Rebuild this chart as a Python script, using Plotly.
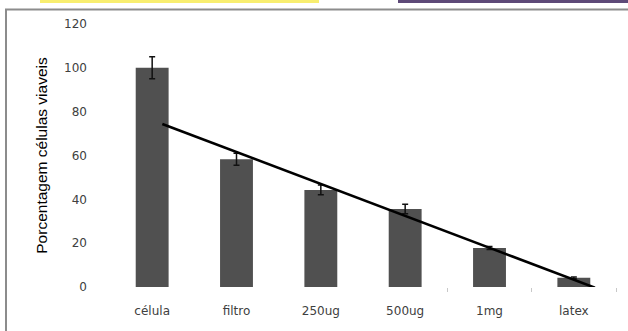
import plotly.graph_objects as go

categories = ["célula", "filtro", "250ug", "500ug", "1mg", "latex"]
values = [100, 58.3, 44.3, 35.6, 17.8, 4.2]
errors = [5.0, 2.7, 2.2, 2.2, 0.7, 0.4]
trend_x = [0.12, 5.25]
trend_y = [74.4, -0.3]
y_ticks = [0, 20, 40, 60, 80, 100, 120]

W, H = 628, 331
L, R, T, B = 110, 12, 24, 44
pw, ph = W - L - R, H - T - B

def px(x):
    return (x - L) / pw

def py(y):
    return (H - B - y) / ph

xs = list(range(len(categories)))

fig = go.Figure()
fig.add_trace(go.Bar(
    x=xs, y=values, width=0.39,
    marker=dict(color="#505050", line=dict(width=0)),
    error_y=dict(type="data", array=errors, visible=True, color="#111111", thickness=1.5, width=3),
))
fig.add_trace(go.Scatter(
    x=trend_x, y=trend_y, mode="lines",
    line=dict(color="#000000", width=2.6), cliponaxis=False,
))

shapes = [
    dict(type="rect", xref="paper", yref="paper", x0=px(6), x1=px(640), y0=py(345), y1=py(9.5),
         line=dict(color="#8c8c8c", width=2), fillcolor="rgba(0,0,0,0)", layer="below"),
    dict(type="rect", xref="paper", yref="paper", x0=px(40), x1=px(319), y0=py(3), y1=py(-2),
         line=dict(width=0), fillcolor="#f8ee70"),
    dict(type="rect", xref="paper", yref="paper", x0=px(398), x1=px(640), y0=py(3), y1=py(-2),
         line=dict(width=0), fillcolor="#5e4a78"),
]

fig.update_layout(
    width=W, height=H,
    margin=dict(l=L, r=R, t=T, b=B),
    paper_bgcolor="white", plot_bgcolor="white",
    showlegend=False,
    shapes=shapes,
    font=dict(family="DejaVu Sans", size=12, color="#404040"),
    xaxis=dict(
        range=[-0.5, 5.5], tickmode="array", tickvals=xs, ticktext=categories,
        showgrid=False, zeroline=False, showline=False, ticks="",
        ticklabelstandoff=15,
        tickfont=dict(family="DejaVu Sans", size=12, color="#404040"),
        minor=dict(tickmode="array", tickvals=[3.5, 4.5, 5.5], ticks="outside", ticklen=4,
                   tickcolor="#c8c8c8", tickwidth=1),
    ),
    yaxis=dict(
        range=[0, 120], tickmode="array", tickvals=y_ticks,
        showgrid=False, zeroline=False, showline=False, ticks="",
        ticklabelstandoff=22,
        tickfont=dict(family="DejaVu Sans", size=12, color="#404040"),
        title=dict(text="Porcentagem células viaveis", standoff=12,
                   font=dict(family="Liberation Sans", size=15.5, color="#000000")),
    ),
)

fig.write_html("out.html", config={"displayModeBar": False},
               post_script="document.body.style.margin='0';")
